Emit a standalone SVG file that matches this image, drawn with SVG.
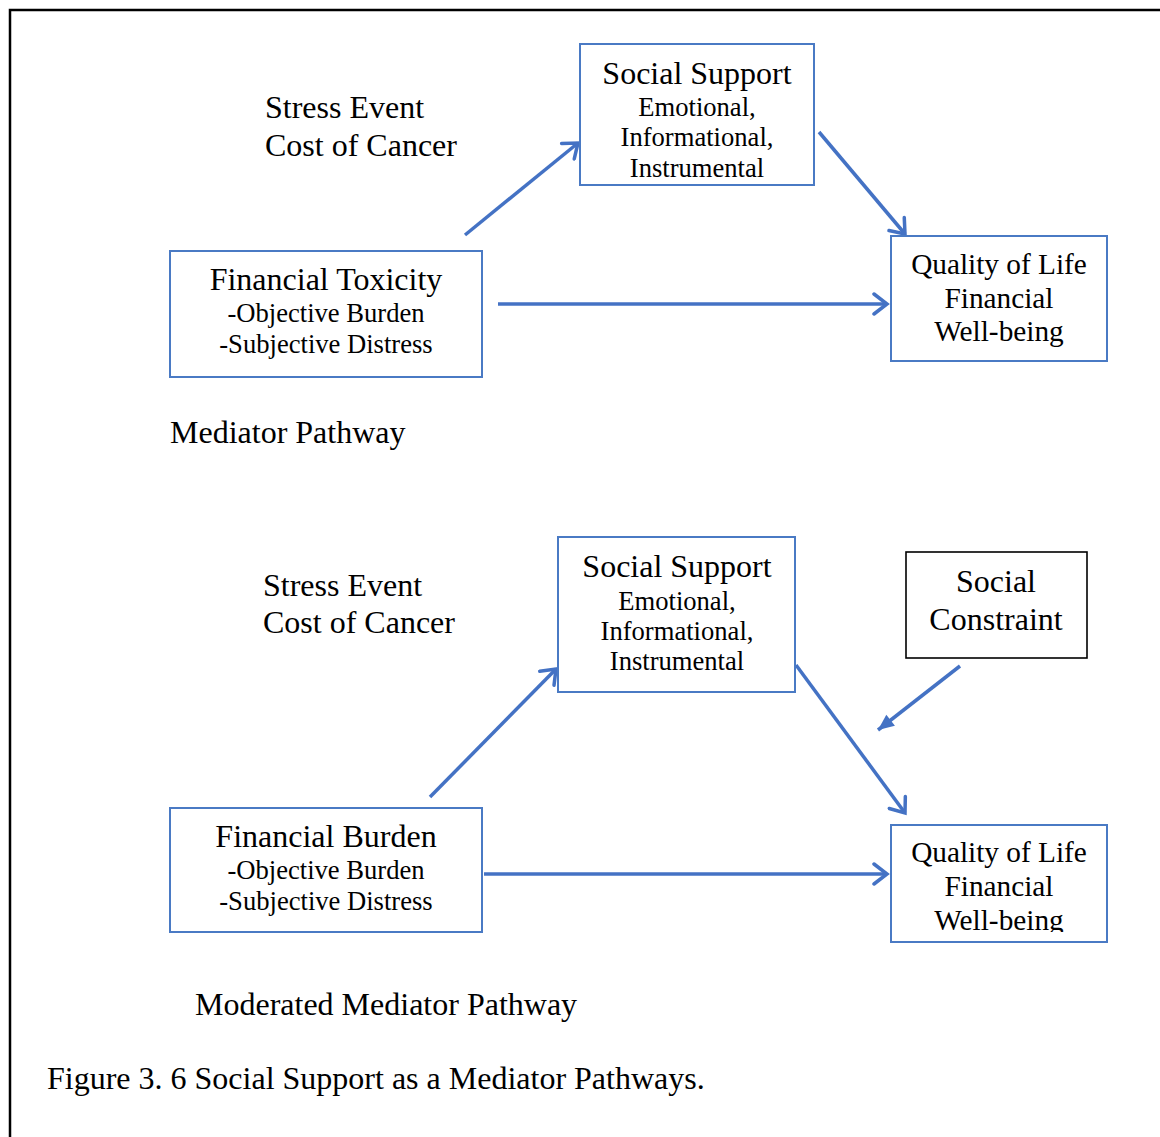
<svg xmlns="http://www.w3.org/2000/svg" width="1160" height="1137" viewBox="0 0 1160 1137">
  <style>
    .box { fill: #ffffff; stroke: #4a7ac4; stroke-width: 2; }
    .box-dark { fill: #ffffff; stroke: #000000; stroke-width: 1.6; }
    .main { font-family: "Liberation Serif", "Times New Roman", serif; font-size: 32px; fill: #000000; }
    .qol { font-family: "Liberation Serif", "Times New Roman", serif; font-size: 29.3px; fill: #000000; }
    .sub { font-family: "Liberation Serif", "Times New Roman", serif; font-size: 26.6px; fill: #000000; }
    .c { text-anchor: middle; }
    .edge { fill: none; stroke: #4472c4; stroke-width: 3.5; }
  </style>
  <defs>
    <marker id="open" viewBox="0 0 20 24" refX="17" refY="12" markerWidth="20" markerHeight="24" markerUnits="userSpaceOnUse" orient="auto">
      <path d="M 4 2 L 17 12 L 4 22" fill="none" stroke="#4472c4" stroke-width="3.5" stroke-linecap="round" stroke-linejoin="miter"/>
    </marker>
    <marker id="solid" viewBox="0 0 20 20" refX="18" refY="10" markerWidth="20" markerHeight="20" markerUnits="userSpaceOnUse" orient="auto">
      <path d="M 2 3 L 18 10 L 2 17 Z" fill="#4472c4"/>
    </marker>
    <clipPath id="qol2clip">
      <rect x="891" y="825" width="216" height="107"/>
    </clipPath>
  </defs>

  <!-- page frame (top and left edges) -->
  <path d="M 10 1137 L 10 10 L 1160 10" fill="none" stroke="#000000" stroke-width="2.5"/>

  <!-- connectors -->
  <g id="connectors">
    <line class="edge" x1="465" y1="235" x2="578" y2="143" marker-end="url(#open)"/>
    <line class="edge" x1="819" y1="132" x2="905" y2="234" marker-end="url(#open)"/>
    <line class="edge" x1="498" y1="304" x2="887" y2="304" marker-end="url(#open)"/>
    <line class="edge" x1="430" y1="797" x2="556" y2="669" marker-end="url(#open)"/>
    <line class="edge" x1="796" y1="665" x2="905" y2="813" marker-end="url(#open)"/>
    <line class="edge" x1="484" y1="874" x2="887" y2="874" marker-end="url(#open)"/>
    <line class="edge" x1="960" y1="666" x2="878" y2="730" marker-end="url(#solid)"/>
  </g>

  <!-- top diagram: mediator pathway -->
  <g id="stress-label-1">
    <text class="main" x="265" y="118">Stress Event</text>
    <text class="main" x="265" y="156">Cost of Cancer</text>
  </g>

  <g id="social-support-1">
    <rect class="box" x="580" y="44" width="234" height="141"/>
    <text class="main c" x="697" y="84">Social Support</text>
    <text class="sub c" x="697" y="116">Emotional,</text>
    <text class="sub c" x="697" y="146">Informational,</text>
    <text class="sub c" x="697" y="177">Instrumental</text>
  </g>

  <g id="financial-toxicity">
    <rect class="box" x="170" y="251" width="312" height="126"/>
    <text class="main c" x="326" y="290">Financial Toxicity</text>
    <text class="sub c" x="326" y="322">-Objective Burden</text>
    <text class="sub c" x="326" y="353">-Subjective Distress</text>
  </g>

  <g id="quality-of-life-1">
    <rect class="box" x="891" y="236" width="216" height="125"/>
    <text class="qol c" x="999" y="274">Quality of Life</text>
    <text class="qol c" x="999" y="308">Financial</text>
    <text class="qol c" x="999" y="341">Well-being</text>
  </g>

  <text id="mediator-title" class="main" x="170" y="443">Mediator Pathway</text>

  <!-- bottom diagram: moderated mediator pathway -->
  <g id="stress-label-2">
    <text class="main" x="263" y="596">Stress Event</text>
    <text class="main" x="263" y="633">Cost of Cancer</text>
  </g>

  <g id="social-support-2">
    <rect class="box" x="558" y="537" width="237" height="155"/>
    <text class="main c" x="677" y="577">Social Support</text>
    <text class="sub c" x="677" y="610">Emotional,</text>
    <text class="sub c" x="677" y="640">Informational,</text>
    <text class="sub c" x="677" y="670">Instrumental</text>
  </g>

  <g id="social-constraint">
    <rect class="box-dark" x="906" y="552" width="181" height="106"/>
    <text class="main c" x="996" y="592">Social</text>
    <text class="main c" x="996" y="630">Constraint</text>
  </g>

  <g id="financial-burden">
    <rect class="box" x="170" y="808" width="312" height="124"/>
    <text class="main c" x="326" y="847">Financial Burden</text>
    <text class="sub c" x="326" y="879">-Objective Burden</text>
    <text class="sub c" x="326" y="910">-Subjective Distress</text>
  </g>

  <g id="quality-of-life-2">
    <rect class="box" x="891" y="825" width="216" height="117"/>
    <g clip-path="url(#qol2clip)">
      <text class="qol c" x="999" y="862">Quality of Life</text>
      <text class="qol c" x="999" y="896">Financial</text>
      <text class="qol c" x="999" y="930">Well-being</text>
    </g>
  </g>

  <text id="moderated-title" class="main" x="195" y="1015">Moderated Mediator Pathway</text>

  <text id="caption" class="main" x="47" y="1089">Figure 3. 6 Social Support as a Mediator Pathways.</text>
</svg>
